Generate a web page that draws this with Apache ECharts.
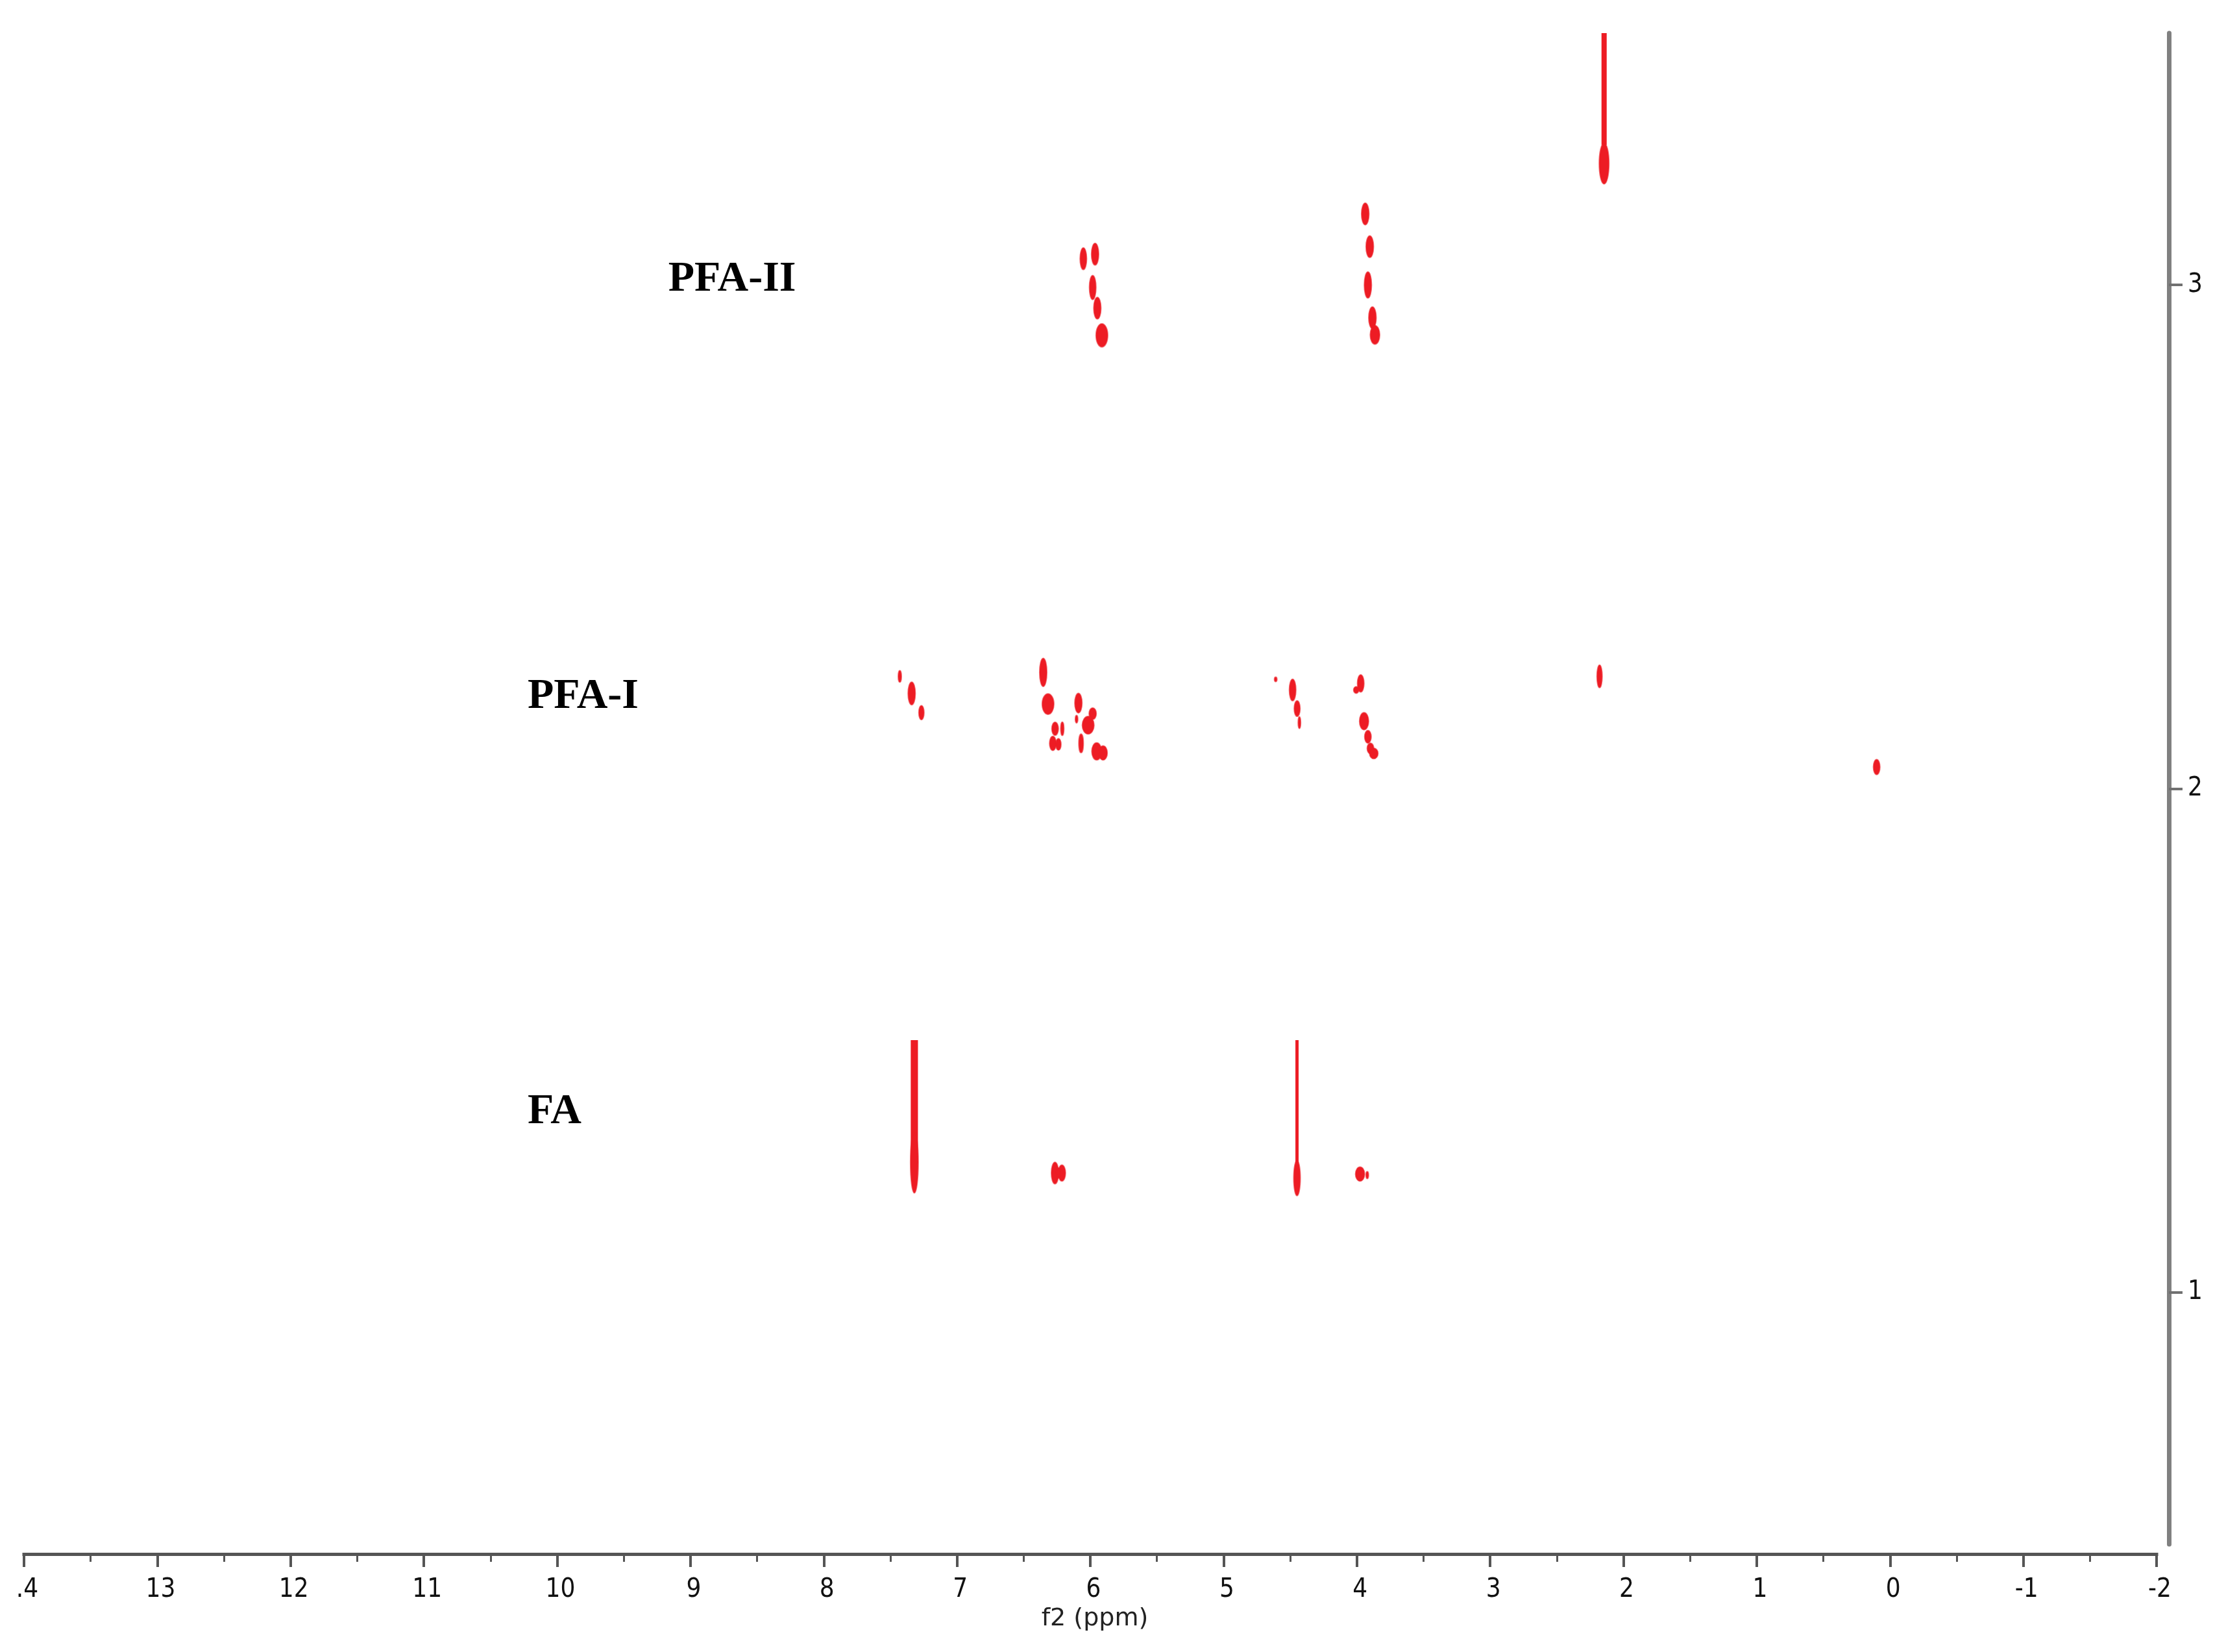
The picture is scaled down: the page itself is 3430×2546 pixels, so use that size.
<!DOCTYPE html>
<html>
<head>
<meta charset="utf-8">
<style>html,body{margin:0;padding:0;background:#fff}#chart{width:3430px;height:2546px}</style>
<script src="https://cdn.jsdelivr.net/npm/echarts@6/dist/echarts.min.js"></script>
</head>
<body>
<div id="chart"></div>
<script>
// f2 (ppm) tick labels: the reference shows the 14 label clipped to ".4"
const f2TickValues = [14,13,12,11,10,9,8,7,6,5,4,3,2,1,0,-1,-2];
const f2TickLabels = ['.4','13','12','11','10','9','8','7','6','5','4','3','2','1','0','-1','-2'];
const f1TickValues = [1,2,3];
const f1TickLabels = ['1','2','3'];

// Cross peaks: centre ppm, centre f1, extent in ppm, extent in f1
const faPpm    = [7.320, 4.449, 6.265, 6.213, 6.239, 3.976, 3.922];
const faF1     = [1.258, 1.227, 1.237, 1.237, 1.237, 1.235, 1.233];
const faDPpm   = [0.058, 0.049, 0.054, 0.054, 0.030, 0.068, 0.019];
const faDF1    = [0.121, 0.070, 0.043, 0.032, 0.020, 0.028, 0.014];

const pfa1Ppm  = [7.429,7.340,7.267,6.353,6.317,6.089,6.103,5.982,6.016,6.264,6.210,6.281,6.239,6.069,5.952,5.904,4.609,4.482,4.448,4.431,3.971,4.005,3.946,3.917,3.898,3.873,2.179,0.100];
const pfa1F1   = [2.223,2.189,2.151,2.231,2.168,2.170,2.138,2.149,2.126,2.119,2.119,2.090,2.088,2.090,2.074,2.071,2.217,2.196,2.159,2.131,2.209,2.196,2.134,2.103,2.080,2.070,2.223,2.043];
const pfa1DPpm = [0.024,0.054,0.039,0.054,0.088,0.054,0.019,0.054,0.088,0.049,0.024,0.049,0.039,0.034,0.073,0.063,0.019,0.049,0.044,0.019,0.049,0.039,0.068,0.049,0.049,0.063,0.039,0.049];
const pfa1DF1  = [0.023,0.045,0.028,0.056,0.041,0.039,0.015,0.023,0.035,0.026,0.027,0.028,0.023,0.037,0.034,0.028,0.009,0.043,0.031,0.023,0.034,0.013,0.034,0.025,0.021,0.021,0.045,0.030];

const pfa2Ppm  = [2.145,6.052,5.964,5.982,5.947,5.913,3.937,3.903,3.917,3.883,3.864];
const pfa2F1   = [3.241,3.052,3.061,2.995,2.954,2.900,3.141,3.076,3.000,2.935,2.901];
const pfa2DPpm = [0.073,0.049,0.054,0.049,0.054,0.088,0.056,0.056,0.054,0.056,0.071];
const pfa2DF1  = [0.081,0.043,0.043,0.048,0.043,0.046,0.043,0.043,0.052,0.043,0.037];

// Long vertical t1-noise ridges: ppm, f1 low, f1 high, extent in ppm
const ridgePpm  = [7.320, 4.449, 2.145];
const ridgeLow  = [1.258, 1.245, 3.278];
const ridgeHigh = [1.501, 1.501, 3.500];
const ridgeDPpm = [0.054, 0.024, 0.039];

// Sample annotations: text, left ppm, centre f1
const sampleNames = ['PFA-II', 'PFA-I', 'FA'];
const samplePpm   = [9.166, 10.222, 10.222];
const sampleF1    = [3.010, 2.182, 1.358];

const RED = '#ed1c24';
const peakRows = (p, f, dp, df) => p.map((v, i) => [v, f[i], dp[i], df[i]]);

function renderPeak(params, api) {
  const c = api.coord([api.value(0), api.value(1)]);
  const s = api.size([api.value(2), api.value(3)]);
  return { type: 'ellipse', shape: { cx: c[0], cy: c[1], rx: s[0] / 2, ry: s[1] / 2 },
           style: { fill: RED, stroke: 'rgba(237,28,36,0.6)', lineWidth: 2 } };
}
function renderRidge(params, api) {
  const a = api.coord([api.value(0), api.value(2)]);
  const b = api.coord([api.value(0), api.value(1)]);
  const w = api.size([api.value(3), 0])[0];
  return { type: 'rect', shape: { x: a[0] - w / 2, y: a[1], width: w, height: b[1] - a[1] },
           style: { fill: RED } };
}
function renderName(params, api) {
  const c = api.coord([api.value(0), api.value(1)]);
  return { type: 'text', x: c[0], y: c[1],
           style: { text: sampleNames[params.dataIndex], fill: '#000',
                    font: 'bold 66px "Liberation Serif"', align: 'left', verticalAlign: 'middle' } };
}
const peakSeries = (name, rows) => ({ name, type: 'custom', renderItem: renderPeak, data: rows, clip: false, silent: true,
  encode: { x: 0, y: 1 } });

const chart = echarts.init(document.getElementById('chart'), null, { renderer: 'canvas' });
chart.setOption({
  animation: false,
  backgroundColor: '#fff',
  grid: { left: 37, top: 51, width: 3286, height: 2329 },
  xAxis: {
    type: 'value', min: -2, max: 14, interval: 1, inverse: true, position: 'bottom', offset: 15,
    name: 'f2 (ppm)', nameLocation: 'middle', nameGap: 76,
    nameTextStyle: { fontFamily: 'DejaVu Sans', fontSize: 38, color: '#222', padding: [0, 0, 0, 14] },
    axisLine: { show: true, onZero: false, lineStyle: { color: '#555', width: 5, cap: 'square' } },
    axisTick: { show: true, length: 20, lineStyle: { color: '#555', width: 4 } },
    minorTick: { show: true, splitNumber: 2, length: 12, lineStyle: { color: '#555', width: 3 } },
    axisLabel: { margin: 36, fontFamily: 'DejaVu Sans Condensed', fontSize: 40, color: '#111',
      hideOverlap: false, showMinLabel: true, showMaxLabel: true, padding: [0, 0, 0, 10],
      formatter: v => f2TickLabels[f2TickValues.indexOf(v)] },
    splitLine: { show: false }, minorSplitLine: { show: false }
  },
  yAxis: {
    type: 'value', min: 0.5, max: 3.5, position: 'right', offset: 19,
    axisLine: { show: true, onZero: false, lineStyle: { color: '#808080', width: 7 } },
    axisTick: { show: true, length: 21, customValues: f1TickValues, lineStyle: { color: '#707070', width: 4 } },
    axisLabel: { margin: 29, fontFamily: 'DejaVu Sans Condensed', fontSize: 40, color: '#111', padding: [0, 0, 12, 0],
      customValues: f1TickValues, formatter: v => f1TickLabels[f1TickValues.indexOf(v)] },
    splitLine: { show: false }
  },
  series: [
    { name: 'ridges', type: 'custom', renderItem: renderRidge, clip: false, silent: true,
      data: ridgePpm.map((v, i) => [v, ridgeLow[i], ridgeHigh[i], ridgeDPpm[i]]), encode: { x: 0, y: [1, 2] } },
    peakSeries('FA', peakRows(faPpm, faF1, faDPpm, faDF1)),
    peakSeries('PFA-I', peakRows(pfa1Ppm, pfa1F1, pfa1DPpm, pfa1DF1)),
    peakSeries('PFA-II', peakRows(pfa2Ppm, pfa2F1, pfa2DPpm, pfa2DF1)),
    { name: 'samples', type: 'custom', renderItem: renderName, clip: false, silent: true,
      data: samplePpm.map((v, i) => [v, sampleF1[i]]), encode: { x: 0, y: 1 } }
  ]
});
</script>
</body>
</html>
